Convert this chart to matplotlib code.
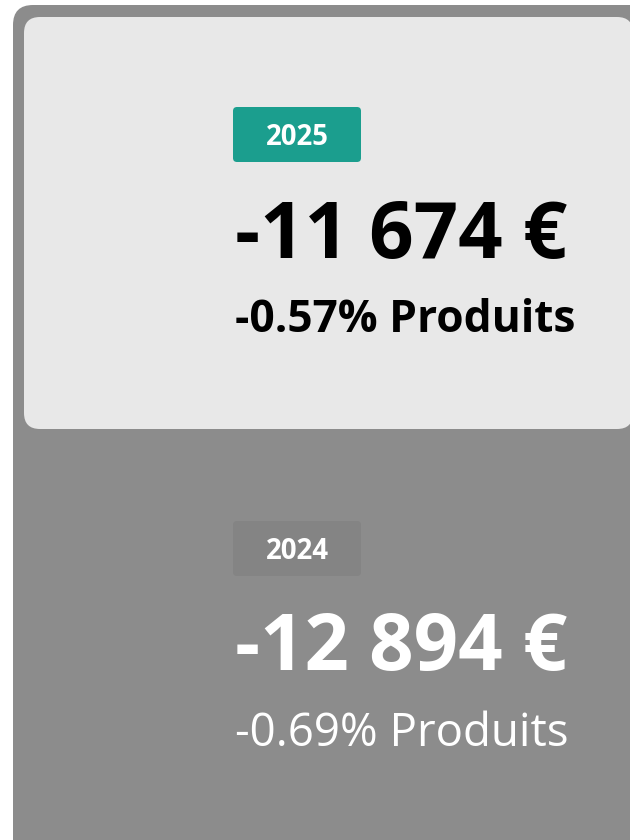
import matplotlib
matplotlib.use("Agg")
import matplotlib.pyplot as plt
from matplotlib.patches import FancyBboxPatch

# data
years = ["2025", "2024"]
amounts = [-11674, -12894]
pct_produits = [-0.57, -0.69]

W, H = 630, 840
DPI = 100

plt.rcParams["font.family"] = ["Open Sans", "DejaVu Sans"]


def fmt_eur(v):
    return f"{v:,}".replace(",", " ") + " €"


def fit_width(t, target, renderer):
    # scale the font so the text spans the target pixel width
    w = t.get_window_extent(renderer).width
    if w > 0:
        t.set_fontsize(t.get_fontsize() * target / w)


fig = plt.figure(figsize=(W / DPI, H / DPI), dpi=DPI)
fig.patch.set_facecolor("white")
ax = fig.add_axes([0, 0, 1, 1])
ax.set_xlim(0, W)
ax.set_ylim(H, 0)
ax.axis("off")

# outer grey card
ax.add_patch(FancyBboxPatch((13, 5), 660, 880, boxstyle="round,pad=0,rounding_size=20",
                            fc="#8c8c8c", ec="none"))
# highlighted card (current year)
ax.add_patch(FancyBboxPatch((24, 17), 609, 412, boxstyle="round,pad=0,rounding_size=16",
                            fc="#e8e8e8", ec="none"))

rows = [
    dict(badge_y=107, badge_c="#1b9e8e", amt_base=258, pct_base=332,
         txt="black", pct_weight="bold", pct_w=340),
    dict(badge_y=521, badge_c="#848484", amt_base=670, pct_base=746,
         txt="white", pct_weight="normal", pct_w=333),
]

renderer = fig.canvas.get_renderer()
for yr, amt, pct, r in zip(years, amounts, pct_produits, rows):
    ax.add_patch(FancyBboxPatch((233, r["badge_y"]), 128, 55,
                                boxstyle="round,pad=0,rounding_size=4",
                                fc=r["badge_c"], ec="none"))
    tb = ax.text(297, r["badge_y"] + 38, yr, color="white", fontsize=20, fontweight="bold",
                 ha="center", va="baseline")
    t1 = ax.text(235, r["amt_base"], fmt_eur(amt), color=r["txt"], fontsize=50,
                 fontweight="bold", ha="left", va="baseline")
    t2 = ax.text(235, r["pct_base"], f"{pct:.2f}% Produits", color=r["txt"], fontsize=28,
                 fontweight=r["pct_weight"], ha="left", va="baseline")
    fit_width(tb, 63, renderer)
    fit_width(t1, 332, renderer)
    fit_width(t2, r["pct_w"], renderer)

fig.savefig("out.png", dpi=DPI)
